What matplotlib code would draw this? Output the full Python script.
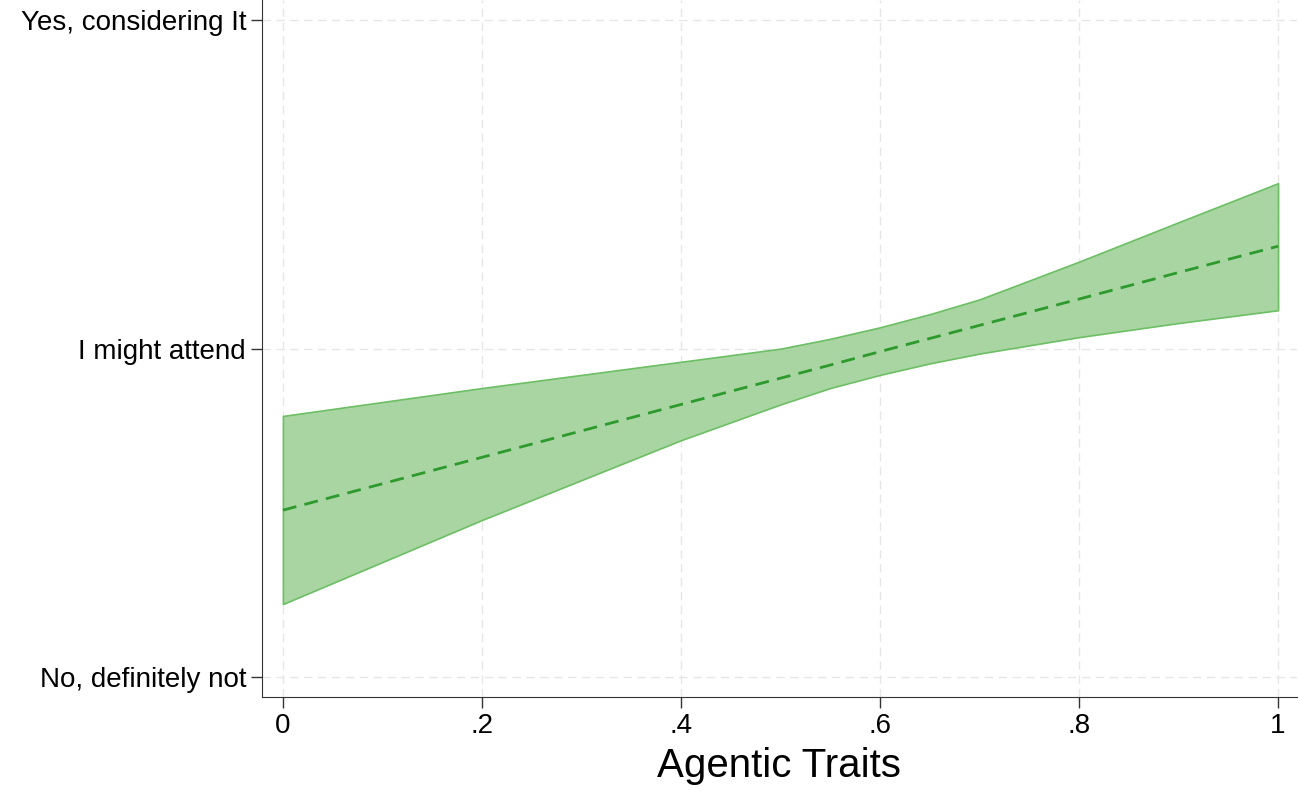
import numpy as np
import matplotlib.pyplot as plt

plt.rcParams['font.family'] = ['Liberation Sans', 'DejaVu Sans']

# Predicted values and confidence band (1 = No, 2 = Might, 3 = Yes)
x_pts = [0, 0.2, 0.4, 0.5, 0.55, 0.6, 0.65, 0.7, 0.8, 0.9, 1.0]
fit = [1.508, 1.669, 1.830, 1.910, 1.950, 1.991, 2.031, 2.071, 2.151, 2.232, 2.312]
upper = [1.795, 1.88, 1.96, 2.0, 2.03, 2.065, 2.105, 2.15, 2.265, 2.385, 2.504]
lower = [1.222, 1.478, 1.721, 1.83, 1.88, 1.92, 1.955, 1.985, 2.035, 2.078, 2.117]

y_ticks = [1, 2, 3]
y_labels = ['No, definitely not', 'I might attend', 'Yes, considering It']
x_ticks = [0, 0.2, 0.4, 0.6, 0.8, 1.0]
x_labels = ['0', '.2', '.4', '.6', '.8', '1']

fig = plt.figure(figsize=(13.01, 7.98), dpi=100)
ax = fig.add_axes([0.2014, 0.1266, 0.7955, 0.873])

ax.fill_between(x_pts, lower, upper, color='#a8d5a2', edgecolor='#6cbf64', linewidth=1.2)
ax.plot(x_pts, fit, '--', color='#2e9a2e', linewidth=2, dashes=(5, 3))

ax.set_xlim(-0.021, 1.019)
ax.set_ylim(0.939, 3.061)
ax.set_yticks(y_ticks)
ax.set_yticklabels(y_labels, fontsize=20)
ax.set_xticks(x_ticks)
ax.set_xticklabels(x_labels, fontsize=20)
ax.tick_params(length=8, width=1, color='#333333')
ax.set_xlabel('Agentic Traits', fontsize=29, labelpad=6)

ax.grid(True, linestyle=(0, (6, 4)), color='#e6e6e6', linewidth=1)
ax.set_axisbelow(True)
for s in ['top', 'right']:
    ax.spines[s].set_visible(False)
for s in ['left', 'bottom']:
    ax.spines[s].set_color('#333333')

fig.savefig('out.png', dpi=100)
